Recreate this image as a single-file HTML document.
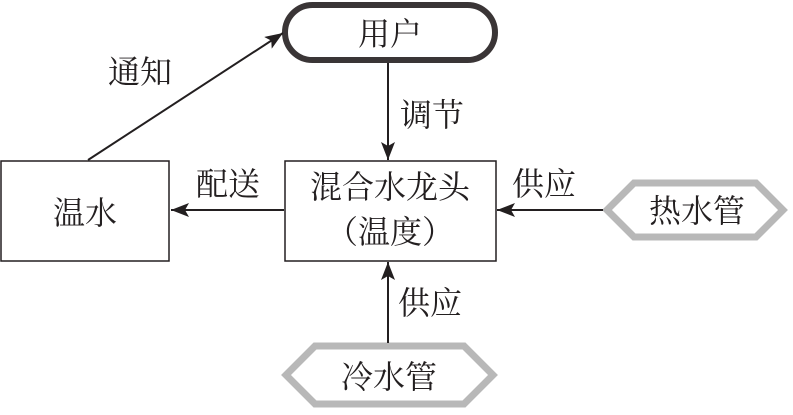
<!DOCTYPE html>
<html><head><meta charset="utf-8"><style>
html,body{margin:0;padding:0;background:#fff;}
svg text{font-family:"Liberation Serif","Noto Serif CJK SC",serif;font-size:32px;fill:#231f20;}
</style></head><body>
<svg width="793" height="410" viewBox="0 0 793 410" xmlns="http://www.w3.org/2000/svg">
<defs><marker id="a" markerWidth="10" markerHeight="10" refX="9" refY="5" orient="auto" markerUnits="userSpaceOnUse"><path d="M0,0 L10,5 L0,10 L3,5 z" fill="#231f20"/></marker>
<marker id="b" markerWidth="20" markerHeight="14" refX="18" refY="7" orient="auto" markerUnits="userSpaceOnUse"><path d="M0,0 L18,7 L0,14 L4,7 z" fill="#231f20"/></marker></defs>
<rect x="285" y="5" width="210" height="55" rx="27.5" fill="#fff" stroke="#3a3536" stroke-width="6"/>
<text x="390" y="45" text-anchor="middle">用户</text>
<rect x="285" y="161" width="211" height="100" fill="#fff" stroke="#231f20" stroke-width="1.5"/>
<text x="390" y="198" text-anchor="middle">混合水龙头</text>
<text x="390" y="243" text-anchor="middle">（温度）</text>
<rect x="1" y="161" width="168" height="100" fill="#fff" stroke="#231f20" stroke-width="1.5"/>
<text x="85" y="224" text-anchor="middle">温水</text>
<polygon points="607,210 634,183 756,183 783,210 756,237 634,237" fill="#fff" stroke="#b8b8b8" stroke-width="7"/>
<text x="697" y="222" text-anchor="middle">热水管</text>
<polygon points="286,375 315,346 464,346 493,375 464,404 315,404" fill="#fff" stroke="#b8b8b8" stroke-width="7"/>
<text x="389" y="388" text-anchor="middle">冷水管</text>
<line x1="388" y1="63" x2="388" y2="160" stroke="#231f20" stroke-width="2" marker-end="url(#b)"/>
<text x="400" y="126">调节</text>
<line x1="284" y1="210" x2="171" y2="210" stroke="#231f20" stroke-width="2" marker-end="url(#b)"/>
<text x="196" y="195">配送</text>
<line x1="603" y1="210" x2="497" y2="210" stroke="#231f20" stroke-width="2" marker-end="url(#b)"/>
<text x="512" y="195">供应</text>
<line x1="388" y1="343" x2="388" y2="262" stroke="#231f20" stroke-width="2" marker-end="url(#b)"/>
<text x="398" y="314">供应</text>
<line x1="88" y1="160" x2="283" y2="33" stroke="#231f20" stroke-width="2" marker-end="url(#b)"/>
<text x="108" y="83">通知</text>
</svg>
</body></html>
